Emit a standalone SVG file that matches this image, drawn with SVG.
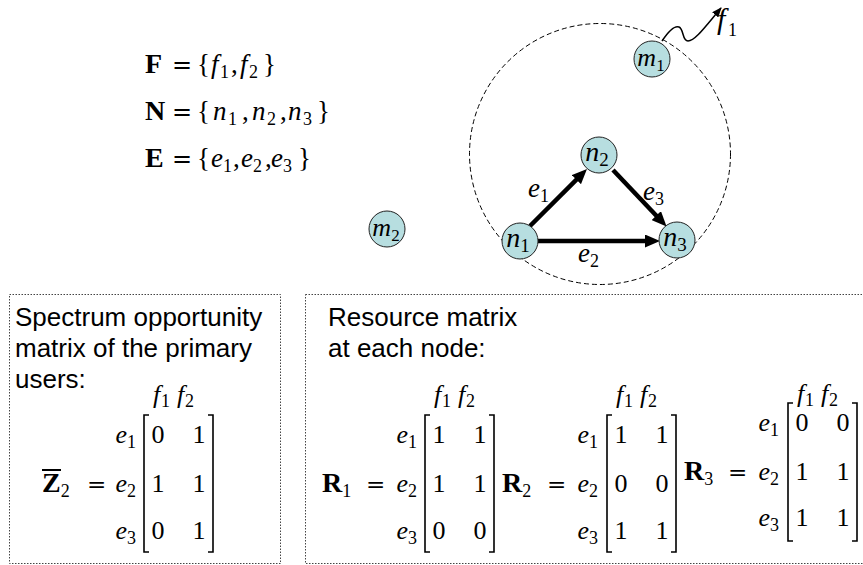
<svg xmlns="http://www.w3.org/2000/svg" width="863" height="565" viewBox="0 0 863 565">
<defs>
<style>
.txt{font-family:"Liberation Sans",Arial,sans-serif;font-size:26px;fill:#000}
.m{font-family:"Liberation Serif","Times New Roman",serif;font-size:26px;fill:#000}
.i{font-style:italic}
.b{font-weight:bold;font-size:28px}
.s{font-size:18px;font-style:normal;font-weight:normal}
.eq{font-family:"DejaVu Serif",serif;font-size:23px;font-style:normal;font-weight:normal}
.br{fill:none;stroke:#000;stroke-width:1.6}
.box{fill:none;stroke:#444;stroke-width:1;stroke-dasharray:1.5 1.5}
.node circle{fill:#b7dee0;stroke:#222;stroke-width:1}
.nl{font-family:"Liberation Serif","Times New Roman",serif;font-style:italic;font-size:28px;text-anchor:middle;fill:#000}
.nl .s{font-size:19px}
.edge{stroke:#000;stroke-width:4.5;fill:none}
.end{text-anchor:end}
.mid{text-anchor:middle}
</style>
<marker id="ah" markerUnits="userSpaceOnUse" markerWidth="15" markerHeight="13" refX="4" refY="6.5" orient="auto" viewBox="0 0 15 13"><path d="M0,0 L15,6.5 L0,13 z" fill="#000"/></marker>
<marker id="ah2" markerUnits="userSpaceOnUse" markerWidth="10" markerHeight="8" refX="9" refY="4" orient="auto" viewBox="0 0 10 8"><path d="M0,0 L10,4 L0,8 z" fill="#000"/></marker>
</defs>

<g id="sets">
<text class="m" y="73" style="font-size:27px"><tspan class="b" x="145">F</tspan><tspan class="eq" x="172" style="font-size:24px">=</tspan><tspan x="197">{</tspan><tspan class="i" x="211">f</tspan><tspan class="s" x="220" dy="5">1</tspan><tspan x="231" dy="-5">,</tspan><tspan class="i" x="240">f</tspan><tspan class="s" x="249" dy="5">2</tspan><tspan x="263" dy="-5">}</tspan></text>
<text class="m" y="120" style="font-size:27px"><tspan class="b" x="145">N</tspan><tspan class="eq" x="172" style="font-size:24px">=</tspan><tspan x="197">{</tspan><tspan class="i" x="213">n</tspan><tspan class="s" x="228" dy="5">1</tspan><tspan x="242" dy="-5">,</tspan><tspan class="i" x="252">n</tspan><tspan class="s" x="267" dy="5">2</tspan><tspan x="280" dy="-5">,</tspan><tspan class="i" x="288">n</tspan><tspan class="s" x="303" dy="5">3</tspan><tspan x="317" dy="-5">}</tspan></text>
<text class="m" y="167" style="font-size:27px"><tspan class="b" x="145">E</tspan><tspan class="eq" x="172" style="font-size:24px">=</tspan><tspan x="197">{</tspan><tspan class="i" x="211">e</tspan><tspan class="s" x="223" dy="5">1</tspan><tspan x="233" dy="-5">,</tspan><tspan class="i" x="241">e</tspan><tspan class="s" x="253" dy="5">2</tspan><tspan x="265" dy="-5">,</tspan><tspan class="i" x="271">e</tspan><tspan class="s" x="283" dy="5">3</tspan><tspan x="298" dy="-5">}</tspan></text>
</g>

<circle cx="600" cy="154" r="130.5" fill="none" stroke="#000" stroke-width="1" stroke-dasharray="5 3"/>

<g id="connectors">
<line class="edge" x1="530" y1="226" x2="579.2" y2="176.8" marker-end="url(#ah)"/>
<line class="edge" x1="538" y1="241" x2="649" y2="241" marker-end="url(#ah)"/>
<line class="edge" x1="613" y1="170" x2="659" y2="218.5" marker-end="url(#ah)"/>
<path d="M662,41 C668,32 674,25 679,27 C684,29 682,41 688,41 C695,41 705,27 721,8" fill="none" stroke="#000" stroke-width="1.5" marker-end="url(#ah2)"/>
<text class="m" y="197" style="font-size:27px"><tspan class="i" x="528">e</tspan><tspan class="s" x="540" dy="5">1</tspan></text>
<text class="m" y="262" style="font-size:27px"><tspan class="i" x="578">e</tspan><tspan class="s" x="590" dy="5">2</tspan></text>
<text class="m" y="200" style="font-size:27px"><tspan class="i" x="643">e</tspan><tspan class="s" x="655" dy="5">3</tspan></text>
<text class="m" y="29" style="font-size:30px"><tspan class="i" x="717">f</tspan><tspan class="s" x="728" dy="7">1</tspan></text>
</g>

<g id="m1" class="node"><circle cx="652" cy="59" r="18"/><text class="nl" x="651" y="66" style="font-size:26px">m<tspan class="s" dy="5" style="font-size:17px">1</tspan></text></g>
<g id="m2" class="node"><circle cx="387" cy="229" r="18"/><text class="nl" x="386" y="236" style="font-size:26px">m<tspan class="s" dy="5" style="font-size:17px">2</tspan></text></g>
<g id="n1" class="node"><circle cx="520" cy="241" r="18"/><text class="nl" x="518" y="247">n<tspan class="s" dy="5">1</tspan></text></g>
<g id="n2" class="node"><circle cx="599" cy="155" r="18"/><text class="nl" x="597" y="161">n<tspan class="s" dy="5">2</tspan></text></g>
<g id="n3" class="node"><circle cx="677" cy="240" r="18"/><text class="nl" x="675" y="246">n<tspan class="s" dy="5">3</tspan></text></g>

<g id="box-spectrum">
<rect class="box" x="9.5" y="294.5" width="271" height="269"/>
<text class="txt" x="15" y="326">Spectrum opportunity</text>
<text class="txt" x="15" y="357">matrix of the primary</text>
<text class="txt" x="15" y="388">users:</text>
<g id="Z2">
<text class="m" y="403"><tspan class="i" x="153">f</tspan><tspan class="s" x="161" dy="4">1</tspan><tspan class="i" x="177" dy="-4">f</tspan><tspan class="s" x="185" dy="4">2</tspan></text>
<text class="m" y="492"><tspan class="b" x="42">Z</tspan><tspan class="s" dy="5">2</tspan></text>
<line x1="42" y1="470" x2="61" y2="470" stroke="#000" stroke-width="2"/>
<text class="eq" x="87" y="492">=</text>
<text class="m end" x="136" y="443"><tspan class="i">e</tspan><tspan class="s" dy="5">1</tspan></text>
<text class="m end" x="136" y="492"><tspan class="i">e</tspan><tspan class="s" dy="5">2</tspan></text>
<text class="m end" x="136" y="539"><tspan class="i">e</tspan><tspan class="s" dy="5">3</tspan></text>
<path class="br" d="M149,415 H144 V552 H149"/>
<path class="br" d="M208,415 H213 V552 H208"/>
<text class="m mid" x="158" y="443">0</text><text class="m mid" x="199" y="443">1</text>
<text class="m mid" x="158" y="492">1</text><text class="m mid" x="199" y="492">1</text>
<text class="m mid" x="158" y="539">0</text><text class="m mid" x="199" y="539">1</text>
</g>
</g>

<g id="box-resource">
<rect class="box" x="305.5" y="294.5" width="570" height="269"/>
<text class="txt" x="328" y="326">Resource matrix</text>
<text class="txt" x="328" y="357">at each node:</text>
<g id="R1">
<text class="m" y="403"><tspan class="i" x="434">f</tspan><tspan class="s" x="442" dy="4">1</tspan><tspan class="i" x="458" dy="-4">f</tspan><tspan class="s" x="466" dy="4">2</tspan></text>
<text class="m" y="492"><tspan class="b" x="322">R</tspan><tspan class="s" dy="5">1</tspan></text>
<text class="eq" x="366" y="492">=</text>
<text class="m end" x="417" y="443"><tspan class="i">e</tspan><tspan class="s" dy="5">1</tspan></text>
<text class="m end" x="417" y="492"><tspan class="i">e</tspan><tspan class="s" dy="5">2</tspan></text>
<text class="m end" x="417" y="539"><tspan class="i">e</tspan><tspan class="s" dy="5">3</tspan></text>
<path class="br" d="M430,415 H425 V552 H430"/>
<path class="br" d="M489,415 H494 V552 H489"/>
<text class="m mid" x="439" y="443">1</text><text class="m mid" x="480" y="443">1</text>
<text class="m mid" x="439" y="492">1</text><text class="m mid" x="480" y="492">1</text>
<text class="m mid" x="439" y="539">0</text><text class="m mid" x="480" y="539">0</text>
</g>
<g id="R2">
<text class="m" y="403"><tspan class="i" x="616">f</tspan><tspan class="s" x="624" dy="4">1</tspan><tspan class="i" x="640" dy="-4">f</tspan><tspan class="s" x="648" dy="4">2</tspan></text>
<text class="m" y="492"><tspan class="b" x="502">R</tspan><tspan class="s" dy="5">2</tspan></text>
<text class="eq" x="547" y="492">=</text>
<text class="m end" x="598" y="443"><tspan class="i">e</tspan><tspan class="s" dy="5">1</tspan></text>
<text class="m end" x="598" y="492"><tspan class="i">e</tspan><tspan class="s" dy="5">2</tspan></text>
<text class="m end" x="598" y="539"><tspan class="i">e</tspan><tspan class="s" dy="5">3</tspan></text>
<path class="br" d="M612,415 H607 V552 H612"/>
<path class="br" d="M671,415 H676 V552 H671"/>
<text class="m mid" x="621" y="443">1</text><text class="m mid" x="662" y="443">1</text>
<text class="m mid" x="621" y="492">0</text><text class="m mid" x="662" y="492">0</text>
<text class="m mid" x="621" y="539">1</text><text class="m mid" x="662" y="539">1</text>
</g>
<g id="R3">
<text class="m" y="402"><tspan class="i" x="797">f</tspan><tspan class="s" x="805" dy="4">1</tspan><tspan class="i" x="821" dy="-4">f</tspan><tspan class="s" x="829" dy="4">2</tspan></text>
<text class="m" y="480"><tspan class="b" x="684">R</tspan><tspan class="s" dy="5">3</tspan></text>
<text class="eq" x="728" y="480">=</text>
<text class="m end" x="779" y="431"><tspan class="i">e</tspan><tspan class="s" dy="5">1</tspan></text>
<text class="m end" x="779" y="480"><tspan class="i">e</tspan><tspan class="s" dy="5">2</tspan></text>
<text class="m end" x="779" y="526"><tspan class="i">e</tspan><tspan class="s" dy="5">3</tspan></text>
<path class="br" d="M793,403 H788 V541 H793"/>
<path class="br" d="M852,403 H857 V541 H852"/>
<text class="m mid" x="802" y="431">0</text><text class="m mid" x="843" y="431">0</text>
<text class="m mid" x="802" y="480">1</text><text class="m mid" x="843" y="480">1</text>
<text class="m mid" x="802" y="526">1</text><text class="m mid" x="843" y="526">1</text>
</g>
</g>
</svg>
